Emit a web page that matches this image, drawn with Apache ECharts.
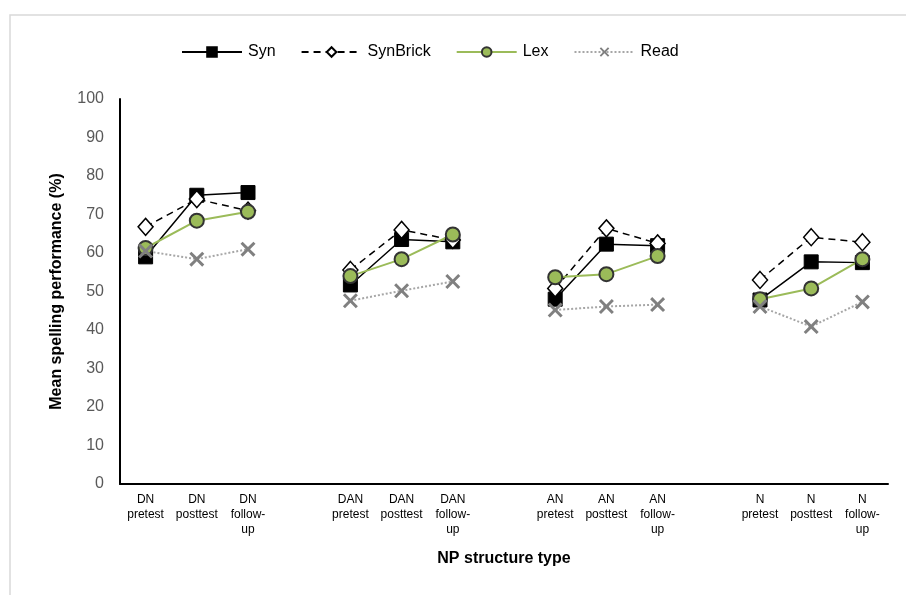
<!DOCTYPE html>
<html>
<head>
<meta charset="utf-8">
<script src="https://cdn.jsdelivr.net/npm/echarts@6/dist/echarts.min.js"></script>
<style>html,body{margin:0;padding:0;background:#fff;}#c{width:906px;height:595px;}</style>
</head>
<body>
<div id="c"></div>
<script>
const categories = ['DN\npretest','DN\nposttest','DN\nfollow-\nup','',
  'DAN\npretest','DAN\nposttest','DAN\nfollow-\nup','',
  'AN\npretest','AN\nposttest','AN\nfollow-\nup','',
  'N\npretest','N\nposttest','N\nfollow-\nup'];
const syn      = [59.0, 75.0, 75.7, null, 51.7, 63.5, 62.9, null, 48.0, 62.3, 61.9, null, 47.8, 57.7, 57.5];
const synBrick = [66.8, 74.0, 71.0, null, 55.6, 66.0, 63.4, null, 50.8, 66.4, 62.5, null, 53.0, 64.1, 62.8];
const lex      = [61.3, 68.4, 70.7, null, 54.0, 58.4, 64.8, null, 53.7, 54.5, 59.2, null, 48.0, 50.8, 58.4];
const read     = [60.5, 58.4, 61.0, null, 47.6, 50.2, 52.6, null, 45.2, 46.1, 46.6, null, 46.1, 40.9, 47.3];
const yTicks = [0,10,20,30,40,50,60,70,80,90,100];

const xPath = 'path://M0,1.4L1.4,0L5,3.6L8.6,0L10,1.4L6.4,5L10,8.6L8.6,10L5,6.4L1.4,10L0,8.6L3.6,5Z';
const font = 'Liberation Sans, Arial, sans-serif';
const chart = echarts.init(document.getElementById('c'));
chart.setOption({
  animation: false,
  graphic: [{type:'rect', shape:{x:10,y:15,width:920,height:620}, style:{fill:'none', stroke:'#D9D9D9', lineWidth:1.5}, silent:true}],
  legend: {
    top: 39, left: 176, itemWidth: 60, itemHeight: 12, itemGap: 25,
    textStyle: {fontSize: 16, color: '#000', fontFamily: font, padding:[0,0,0,1]},
    data: ['Syn','SynBrick','Lex','Read']
  },
  grid: {left: 120, right: 18, top: 99, bottom: 111, containLabel: false},
  xAxis: {
    type: 'category', data: categories, boundaryGap: true,
    name: 'NP structure type', nameLocation: 'middle', nameGap: 67,
    nameTextStyle: {fontSize: 16, fontWeight: 'bold', color: '#000', fontFamily: font},
    axisLine: {lineStyle: {color: '#000', width: 2}},
    axisTick: {show: false},
    axisLabel: {interval: 0, fontSize: 12, color: '#000', fontFamily: font, lineHeight: 15, margin: 8}
  },
  yAxis: {
    type: 'value', min: 0, max: 100, interval: 10,
    name: 'Mean spelling performance (%)', nameLocation: 'middle', nameGap: 55,
    nameTextStyle: {fontSize: 16, fontWeight: 'bold', color: '#000', fontFamily: font},
    axisLine: {show: true, lineStyle: {color: '#000', width: 2}},
    axisTick: {show: false},
    splitLine: {show: false},
    axisLabel: {fontSize: 16, color: '#595959', fontFamily: font, margin: 16,
      formatter: v => yTicks.includes(v) ? String(v) : ''}
  },
  series: [
    {name:'Syn', type:'line', data: syn, connectNulls:false, symbol:'rect', symbolSize:14,
     lineStyle:{color:'#000', width:1.5}, itemStyle:{color:'#000', borderColor:'#000', borderWidth:1}},
    {name:'SynBrick', type:'line', data: synBrick, connectNulls:false, symbol:'diamond', symbolSize:[15,17],
     lineStyle:{color:'#000', width:1.5, type:[7,5]}, itemStyle:{color:'#fff', borderColor:'#000', borderWidth:1.5}},
    {name:'Lex', type:'line', data: lex, connectNulls:false, symbol:'circle', symbolSize:14,
     lineStyle:{color:'#9BBB59', width:2}, itemStyle:{color:'#9BBB59', borderColor:'#333', borderWidth:2}},
    {name:'Read', type:'line', data: read, connectNulls:false, symbol: xPath, symbolSize:15, symbolKeepAspect:true,
     lineStyle:{color:'#A6A6A6', width:2, type:[2,2]}, itemStyle:{color:'#808080', borderWidth:0}}
  ]
});
</script>
</body>
</html>
